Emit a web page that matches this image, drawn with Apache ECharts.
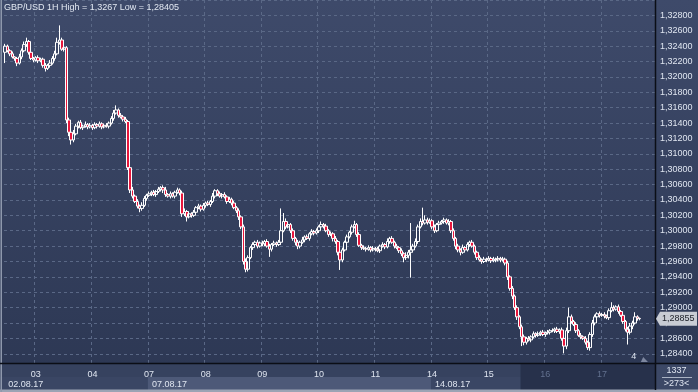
<!DOCTYPE html>
<html><head><meta charset="utf-8">
<script src="https://cdn.jsdelivr.net/npm/echarts@6/dist/echarts.min.js"></script>
<style>html,body{margin:0;padding:0;background:#2f3a56}#c{width:698px;height:392px}</style>
</head><body><div id="c"></div>
<script>
// ---------------- data ----------------
const titleText = 'GBP/USD 1H High = 1,3267 Low = 1,28405';
const days = ['02','03','04','07','08','09','10','11','14','15','16','17'];
const dayCandles = [13,24,24,24,24,24,24,24,24,24,24,17];
const weekStartDays = ['02','07','14'];
const weekLabels = ['02.08.17','07.08.17','14.08.17'];
const dimFromDay = '16';
const darkZoneStart = 219;          // candle index where the dark axis zone starts
const emptySlots = 6;               // empty hours to the right of last candle
const priceBase = 1.28, pip = 0.0001;
const firstOpen = 432;              // pips above 1.28
const closes = [
440,434,430,426,424,418,426,434,442,446,
432,424,422,425,421,423,415,411,415,418,
424,430,445,448,436,438,344,328,318,326,
336,341,334,336,338,335,337,334,338,336,
339,335,337,336,340,346,353,357,350,348,
345,342,282,253,245,238,232,229,233,242,
246,248,250,247,251,254,256,253,247,245,
248,245,250,253,249,222,225,218,222,220,
224,230,232,228,233,236,234,238,245,252,
248,245,247,244,238,241,236,230,226,218,
205,160,150,165,178,182,185,180,184,183,
186,180,176,182,184,182,185,200,212,205,
208,200,190,185,180,185,188,192,190,196,
199,197,200,205,208,206,200,195,196,190,
186,172,162,175,185,192,198,205,208,195,
181,178,177,176,178,175,177,176,174,180,
182,179,186,190,185,180,178,174,170,165,
168,172,175,180,186,205,212,210,214,211,
213,205,200,208,210,212,214,210,212,200,
190,180,175,172,178,175,182,185,180,172,
165,162,160,163,162,164,161,163,162,164,
162,163,158,140,125,115,100,88,75,62,
55,60,58,62,66,64,66,68,65,67,
68,70,70,72,69,71,60,50,70,88,
82,78,70,64,62,60,55,48,65,80,
88,92,90,91,89,87,96,100,98,101,
95,90,82,72,68,76,80,88,86,85.5];
const upWick = [
3,2,2,3,1,2,4,3,4,5, 2,3,2,2,3,2,2,3,2,4, 3,4,6,19,3,2,2,3,4,5, 3,2,3,2,4,2,3,2,3,2,
3,2,2,3,2,3,4,6,2,3, 2,3,2,3,4,2,3,2,4,3, 2,3,2,3,2,3,2,3,4,2, 3,2,2,3,2,3,4,2,3,2,
3,2,3,2,3,2,3,2,4,2, 2,3,2,3,2,3,2,3,2,3, 2,3,4,3,2,3,2,3,2,3, 2,3,3,2,3,2,3,29,11,4,
3,2,3,2,3,2,4,2,3,2, 3,2,3,2,4,2,3,2,3,2, 3,2,4,3,2,3,2,3,5,2, 3,2,3,2,3,2,3,2,3,2,
3,2,4,2,3,2,3,2,3,2, 4,3,35,3,4,3,4,18,6,3, 3,2,3,2,3,2,3,2,3,2, 3,2,3,2,4,2,3,2,3,2,
2,3,2,3,2,3,2,3,2,3, 2,3,2,3,2,3,2,3,2,3, 3,2,3,2,3,2,3,2,3,2, 3,2,3,2,3,2,3,2,4,12,
3,2,3,2,3,2,3,2,3,4, 3,2,3,2,3,2,3,7,3,2, 3,2,3,2,3,4,3,6,2,1];
const dnWick = [
14,2,3,2,3,4,2,3,2,3, 3,2,3,2,3,2,3,4,2,3, 2,3,2,3,2,3,4,5,6,3, 2,3,2,3,2,3,2,3,2,3,
2,3,2,2,3,2,3,2,3,2, 3,2,3,4,3,2,3,5,3,2, 3,2,3,2,3,2,3,4,3,2, 3,2,3,2,3,4,3,6,2,3,
2,3,2,3,2,3,2,3,2,3, 3,2,3,2,3,2,3,2,3,4, 3,4,4,3,2,3,2,3,2,3, 3,2,10,3,2,3,2,3,2,3,
2,3,3,4,4,3,2,3,2,3, 2,3,2,3,2,3,2,3,2,4, 3,4,13,3,2,3,2,3,2,3, 2,3,2,3,2,3,2,3,2,3,
2,3,2,3,2,3,2,3,3,6, 3,4,33,3,2,3,2,3,2,3, 2,3,3,2,3,2,3,2,3,3, 3,4,3,4,2,3,2,3,2,3,
3,2,3,2,3,2,3,2,3,2, 3,2,3,4,3,4,3,4,3,12, 4,3,2,3,2,3,2,3,2,3, 2,3,2,3,2,3,3,9.5,4,3,
3,2,3,2,3,2,3,3,4,3, 3,2,3,2,3,2,3,2,3,2, 3,2,3,3,16,3,4,2,3,2];
const lastPrice = 1.28855;
const barsTotal = '1337';
const barsShown = '>273<';
const markerCount = '4';
const yMin = 1.2828, yMax = 1.3300, yStep = 0.002;

// ---------------- build ----------------
const cats = [], dayLabelAt = {}, weekLabelAt = {}, dayStarts = new Set();
let n = 0, dimIdx = Infinity;
days.forEach((d, di) => {
  for (let h = 0; h < dayCandles[di]; h++) {
    if (h === 0 && di > 0) { dayLabelAt[n] = d; dayStarts.add(n); }
    if (h === 0 && d === dimFromDay) dimIdx = n;
    if (h === 0 && weekStartDays.includes(d)) weekLabelAt[n] = weekLabels[weekStartDays.indexOf(d)];
    cats.push('c' + n); n++;
  }
});
for (let e = 0; e < emptySlots; e++) { cats.push('c' + n); n++; }

const candles = closes.map((c, i) => {
  const o = i === 0 ? firstOpen : closes[i - 1];
  const hi = Math.max(o, c) + upWick[i], lo = Math.min(o, c) - dnWick[i];
  return [o, c, lo, hi].map(p => +(priceBase + p * pip).toFixed(5));
});

const FONT = 'Liberation Sans, Arial, sans-serif';
const G = {left: 4, top: 0, right: 43, bottom: 29};
const W = 698, H = 392, axisY = H - G.bottom, axisX = W - G.right;

const chart = echarts.init(document.getElementById('c'), null, {renderer: 'canvas'});
chart.setOption({
  animation: false,
  backgroundColor: {type: 'linear', x: 0, y: 0, x2: 0, y2: 1,
    colorStops: [{offset: 0, color: '#3e4a6a'}, {offset: 1, color: '#2c3753'}]},
  title: {text: titleText, left: 4, top: 3, padding: 0,
    textStyle: {fontSize: 9, color: '#e2e8f2', fontWeight: 'normal', fontFamily: FONT}},
  grid: G,
  xAxis: [{
    type: 'category', data: cats, boundaryGap: true,
    axisLine: {show: false}, axisTick: {show: false},
    axisLabel: {interval: 0, margin: 7, fontSize: 9, fontFamily: FONT,
      formatter: (v, i) => dayLabelAt[i] || '',
      color: (v, i) => (i >= dimIdx ? '#62708e' : '#dfe5f0')},
    splitLine: {show: true, interval: (i) => dayStarts.has(i),
      lineStyle: {color: '#5a6886', type: [3, 3], width: 1}}
  }, {
    type: 'category', data: cats, boundaryGap: true, position: 'bottom', offset: 12,
    axisLine: {show: false}, axisTick: {show: false}, splitLine: {show: false},
    axisLabel: {interval: 0, margin: 5, fontSize: 9, fontFamily: FONT, align: 'left',
      padding: [0, 0, 0, 3], color: '#dfe5f0',
      formatter: (v, i) => weekLabelAt[i] || ''}
  }],
  yAxis: {
    type: 'value', position: 'right', min: yMin, max: yMax, scale: true,
    splitNumber: 24, minInterval: yStep, maxInterval: yStep,
    axisLine: {show: false}, axisTick: {show: false},
    axisLabel: {margin: 5, fontSize: 9, fontFamily: FONT, color: '#dfe5f0',
      showMinLabel: false, showMaxLabel: false,
      formatter: v => v.toFixed(5).replace('.', ',')},
    splitLine: {show: true, lineStyle: {color: '#5a6886', type: [3, 3], width: 1}}
  },
  series: [{
    type: 'candlestick', data: candles, barWidth: 3, silent: true,
    itemStyle: {color: 'rgba(0,0,0,0)', color0: '#e8163c',
      borderColor: '#ffffff', borderColor0: '#ffffff', borderWidth: 1}
  }]
});

const bandW = chart.convertToPixel({xAxisIndex: 0}, 1) - chart.convertToPixel({xAxisIndex: 0}, 0);
const edge = i => chart.convertToPixel({xAxisIndex: 0}, i) - bandW / 2;
const wk = Object.keys(weekLabelAt).map(Number).sort((a, b) => a - b);
const py = chart.convertToPixel({yAxisIndex: 0}, lastPrice);
const row2 = axisY + 14;

chart.setOption({graphic: [
  {type: 'rect', z: -10, shape: {x: 0, y: axisY, width: axisX, height: 14}, style: {fill: '#36425f'}},
  {type: 'rect', z: -10, shape: {x: 0, y: row2, width: axisX, height: H - row2}, style: {fill: '#3a4664'}},
  {type: 'rect', z: -9, shape: {x: edge(wk[1]), y: row2, width: edge(wk[2]) - edge(wk[1]), height: H - row2}, style: {fill: '#4d5978'}},
  {type: 'rect', z: -8, shape: {x: edge(darkZoneStart), y: axisY, width: axisX - edge(darkZoneStart), height: H - axisY}, style: {fill: '#27314b'}},
  {type: 'rect', z: -10, shape: {x: axisX, y: axisY, width: W - axisX, height: H - axisY}, style: {fill: '#3c4866'}},
  {type: 'rect', z: 20, shape: {x: 0, y: H - 2.5, width: W, height: 2.5}, style: {fill: '#9ba3b4'}},
  {type: 'rect', z: 20, shape: {x: 0.5, y: 0, width: 1.5, height: H}, style: {fill: '#8e98ac'}},
  {type: 'line', z: 20, shape: {x1: 0, y1: axisY + 0.5, x2: W, y2: axisY + 0.5}, style: {stroke: '#0b0e16', lineWidth: 1.5}},
  {type: 'line', z: 20, shape: {x1: axisX + 0.5, y1: 0, x2: axisX + 0.5, y2: H - 2}, style: {stroke: '#0b0e16', lineWidth: 1.5}},
  {type: 'text', z: 21, x: (axisX + W) / 2, y: axisY + 8, style: {text: barsTotal, fill: '#dfe5f0', font: '9px ' + FONT, align: 'center', verticalAlign: 'middle'}},
  {type: 'line', z: 21, shape: {x1: axisX + 7, y1: row2 + 0.5, x2: W - 6, y2: row2 + 0.5}, style: {stroke: '#aab3c4', lineWidth: 1}},
  {type: 'text', z: 21, x: (axisX + W) / 2, y: row2 + 7, style: {text: barsShown, fill: '#dfe5f0', font: '9px ' + FONT, align: 'center', verticalAlign: 'middle'}},
  {type: 'polygon', z: 22, shape: {points: [[axisX + 1, py], [axisX + 5, py - 7], [W - 1, py - 7], [W - 1, py + 7], [axisX + 5, py + 7]]}, style: {fill: '#c8ccd4'}},
  {type: 'text', z: 23, x: axisX + 7, y: py, style: {text: lastPrice.toFixed(5).replace('.', ','), fill: '#20242c', font: '9px ' + FONT, verticalAlign: 'middle'}},
  {type: 'text', z: 21, x: edge(closes.length - 3), y: axisY - 6, style: {text: markerCount, fill: '#dfe5f0', font: '9px ' + FONT, align: 'center', verticalAlign: 'middle'}},
  {type: 'polygon', z: 21, shape: {points: [[edge(closes.length), axisY - 1], [edge(closes.length + 1), axisY - 6], [edge(closes.length + 3), axisY - 1]]}, style: {fill: '#7d87a0'}}
]});
</script></body></html>
